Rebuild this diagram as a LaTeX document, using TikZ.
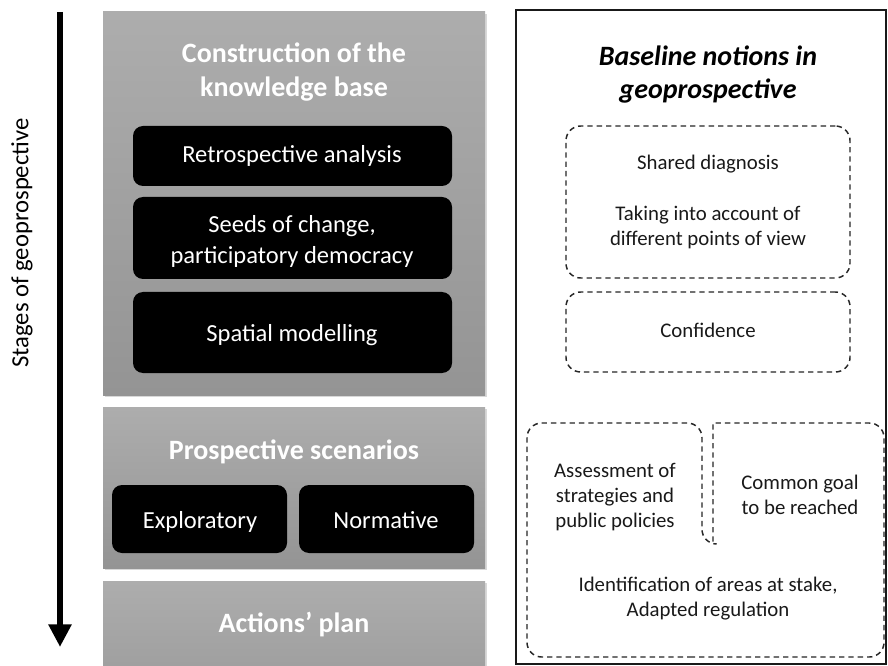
\documentclass[tikz,border=0pt]{standalone}
\usepackage{fontspec}
\setmainfont{Carlito}
\usetikzlibrary{shadows,arrows.meta,fit}
\definecolor{graytop}{HTML}{ADADAD}
\definecolor{graybot}{HTML}{949494}
\tikzset{
  stagebox/.style={rectangle, inner sep=0pt, draw=none, top color=graytop, bottom color=graybot,
    drop shadow={opacity=0.3, shadow xshift=1.6pt, shadow yshift=-1.6pt}},
  stagetitle/.style={text=white, font=\fontsize{21}{25.5}\selectfont\bfseries, align=center, inner sep=0pt},
  blackbox/.style={rectangle, rounded corners=7.5pt, fill=black, draw=none, inner sep=0pt},
  wtext/.style={text=white, font=\fontsize{18.4}{23.25}\selectfont, align=center, inner sep=0pt},
  dashline/.style={draw=black!85, line width=1.1pt, dash pattern=on 4pt off 3pt},
  dbox/.style={rectangle, rounded corners=11pt, dashline, inner sep=0pt},
  rtext/.style={text=black!90, font=\fontsize{15.6}{18.75}\selectfont, align=center, inner sep=0pt},
}
\begin{document}
\begin{tikzpicture}[x=0.75pt,y=-0.75pt]
\useasboundingbox (0,0) rectangle (888,666);
\fill[white] (0,0) rectangle (888,666);

% arrow
\coordinate (atop) at (60,12);
\coordinate (abot) at (60,647);
\draw[line width=5pt, -{Triangle[width=16.5pt,length=17pt]}] (atop) -- (abot);
\node[rotate=90, font=\fontsize{18.5}{22}\selectfont, inner sep=0pt] (stages) at (22,243) {Stages of geoprospective};

% stage boxes
\node[stagebox, fit={(103,12) (485,395)}] (s1) {};
\node[stagebox, fit={(103,407) (485,568)}] (s2) {};
\node[stagebox, fit={(103,581) (485,742)}] (s3) {};

\node[stagetitle] (t1) at (294,72.3) {Construction of the\\knowledge base};
\node[stagetitle, anchor=base] (t2) at (294,459) {Prospective scenarios};
\node[stagetitle, anchor=base] (t3) at (294,632) {Actions’ plan};

\node[blackbox, fit={(133,126) (452,186)}] (b1) {};
\node[wtext, anchor=base] (b1t) at (292,163) {Retrospective analysis};
\node[blackbox, fit={(133,197) (452,279)}] (b2) {};
\node[wtext] (b2t) at (292,241.5) {Seeds of change,\\participatory democracy};
\node[blackbox, fit={(133,292) (452,373)}] (b3) {};
\node[wtext, anchor=base] (b3t) at (292,342) {Spatial modelling};
\node[blackbox, fit={(112,485) (287,553)}] (b4) {};
\node[wtext, anchor=base] (b4t) at (200,528) {Exploratory};
\node[blackbox, fit={(299,485) (474,553)}] (b5) {};
\node[wtext, anchor=base] (b5t) at (386,528) {Normative};

% right panel
\node[rectangle, draw=black!90, line width=1.1pt, inner sep=0pt, fit={(516,10) (886,664)}] (panel) {};
\node[font=\fontsize{21}{24.75}\selectfont\bfseries\itshape, align=center, inner sep=0pt] (rt) at (708,75) {Baseline notions in\\geoprospective};

\node[dbox, fit={(566,126) (850,278)}] (d1) {};
\node[rtext, anchor=base] (d1a) at (708,170) {Shared diagnosis};
\node[rtext] (d1b) at (708,227.5) {Taking into account of\\different points of view};
\node[dbox, fit={(566,292) (850,372)}] (d2) {};
\node[rtext, anchor=base] (d2t) at (708,338) {Confidence};

\draw[dashline] (707,657) [rounded corners=11pt] -- (527,657) -- (527,423) -- (702,423) -- (702,544)
  [sharp corners] -- (713,544) -- (713,423) [rounded corners=11pt] -- (884,423) -- (884,657) -- cycle;
\node[rtext] (d3a) at (615,497) {Assessment of\\strategies and\\public policies};
\node[rtext] (d3b) at (800,495) {Common goal\\to be reached};
\node[rtext] (d3c) at (708,599) {Identification of areas at stake,\\Adapted regulation};
\end{tikzpicture}
\end{document}
